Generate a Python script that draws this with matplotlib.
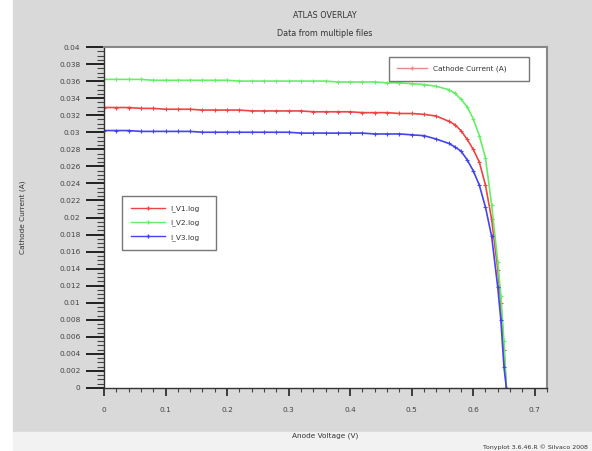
import matplotlib
matplotlib.use("Agg")
import matplotlib.pyplot as plt
from matplotlib.lines import Line2D
from matplotlib.patches import Rectangle
from matplotlib.ticker import MultipleLocator

# Anode voltage (V)
voltage = [0.00, 0.02, 0.04, 0.06, 0.08, 0.10, 0.12, 0.14, 0.16, 0.18,
           0.20, 0.22, 0.24, 0.26, 0.28, 0.30, 0.32, 0.34, 0.36, 0.38,
           0.40, 0.42, 0.44, 0.46, 0.48, 0.50, 0.52, 0.54, 0.56, 0.57,
           0.58, 0.59, 0.60, 0.61, 0.62, 0.63, 0.64, 0.645, 0.65, 0.654]

# Cathode current (A) for each log file
i_v1 = [0.0329, 0.0329, 0.0329, 0.0328, 0.0328, 0.0327, 0.0327, 0.0327, 0.0326, 0.0326,
        0.0326, 0.0326, 0.0325, 0.0325, 0.0325, 0.0325, 0.0325, 0.0324, 0.0324, 0.0324,
        0.0324, 0.0323, 0.0323, 0.0323, 0.0322, 0.0322, 0.0321, 0.0319, 0.0313, 0.0309,
        0.0302, 0.0292, 0.0280, 0.0265, 0.0238, 0.0198, 0.0139, 0.0100, 0.0045, 0.0000]
i_v2 = [0.0362, 0.0362, 0.0362, 0.0362, 0.0361, 0.0361, 0.0361, 0.0361, 0.0361, 0.0361,
        0.0361, 0.0360, 0.0360, 0.0360, 0.0360, 0.0360, 0.0360, 0.0360, 0.0360, 0.0359,
        0.0359, 0.0359, 0.0359, 0.0358, 0.0358, 0.0357, 0.0356, 0.0354, 0.0350, 0.0346,
        0.0339, 0.0330, 0.0316, 0.0296, 0.0270, 0.0215, 0.0148, 0.0108, 0.0055, 0.0000]
i_v3 = [0.0302, 0.0302, 0.0302, 0.0301, 0.0301, 0.0301, 0.0301, 0.0301, 0.0300, 0.0300,
        0.0300, 0.0300, 0.0300, 0.0300, 0.0300, 0.0300, 0.0299, 0.0299, 0.0299, 0.0299,
        0.0299, 0.0299, 0.0298, 0.0298, 0.0298, 0.0297, 0.0296, 0.0292, 0.0287, 0.0283,
        0.0278, 0.0268, 0.0255, 0.0238, 0.0212, 0.0178, 0.0118, 0.0080, 0.0025, 0.0000]

labels = ["I_V1.log", "I_V2.log", "I_V3.log"]
colors = ["#ee4444", "#66ee66", "#4444ee"]

fig = plt.figure(figsize=(5.92, 4.51), dpi=100)
fig.patch.set_facecolor("white")
# grey panel + light footer strip like tonyplot
fig.add_artist(Rectangle((13 / 592, 19 / 451), 1, 1, transform=fig.transFigure,
                         color="#d9d9d9", zorder=0))
fig.add_artist(Rectangle((13 / 592, 0), 1, 19 / 451, transform=fig.transFigure,
                         color="#f2f2f2", zorder=0))

ax = fig.add_axes([104 / 592, 1 - 388 / 451, 443 / 592, 341 / 451])
ax.set_facecolor("white")

for cur, lab, col in zip([i_v1, i_v2, i_v3], labels, colors):
    ax.plot(voltage, cur, color=col, lw=1.2, marker="+", markersize=3.5,
            markeredgewidth=0.8, label=lab)

ax.set_xlim(0, 0.72)
ax.set_ylim(0, 0.04)
ax.set_xticks([0, 0.1, 0.2, 0.3, 0.4, 0.5, 0.6, 0.7])
ax.set_xticklabels(["0", "0.1", "0.2", "0.3", "0.4", "0.5", "0.6", "0.7"])
yt = [i * 0.002 for i in range(21)]
ax.set_yticks(yt)
ax.set_yticklabels(["0"] + [f"{v:g}" for v in yt[1:]])
ax.xaxis.set_minor_locator(MultipleLocator(0.02))
ax.yaxis.set_minor_locator(MultipleLocator(0.0005))
ax.tick_params(axis="y", which="major", length=13, width=1.4, labelsize=5.3, colors="#222222",
               labelcolor="#444444", pad=4)
ax.tick_params(axis="y", which="minor", length=5, width=0.8, colors="#444444")
ax.tick_params(axis="x", which="major", length=6, width=1.2, labelsize=5.3, colors="#222222",
               labelcolor="#444444", pad=8)
ax.tick_params(axis="x", which="minor", length=3, width=0.8, colors="#444444")

for s in ["top", "right"]:
    ax.spines[s].set_color("#888888")
    ax.spines[s].set_linewidth(1.5)
for s in ["left", "bottom"]:
    ax.spines[s].set_color("#333333")
    ax.spines[s].set_linewidth(1.0)

ax.set_xlabel("Anode Voltage (V)", fontsize=5.3, color="#333333", labelpad=14)
ax.set_ylabel("Cathode Current (A)", fontsize=5.3, color="#333333", labelpad=24)

fig.text(325 / 592, 1 - 16 / 451, "ATLAS OVERLAY", ha="center", va="center",
         fontsize=5.8, color="#333333")
fig.text(325 / 592, 1 - 33 / 451, "Data from multiple files", ha="center", va="center",
         fontsize=5.8, color="#333333")
fig.text(588 / 592, 4 / 451, "Tonyplot 3.6.46.R \u00a9 Silvaco 2008", ha="right",
         va="center", fontsize=4.5, color="#333333")

# legends
h1 = [Line2D([], [], color="#ee8888", lw=1, marker="+", markersize=3.5, markevery=[1])]
leg1 = ax.legend(h1, ["Cathode Current (A)"], loc="upper left",
                 bbox_to_anchor=(0.634, 0.903, 0.334, 0.079), mode="expand",
                 fontsize=5.3, frameon=True, fancybox=False, handlelength=4,
                 borderpad=1.2, labelcolor="#333333")
leg1.get_frame().set_edgecolor("#555555")
leg1.get_frame().set_linewidth(1)
ax.add_artist(leg1)

h2 = [Line2D([], [], color=c, lw=1, marker="+", markersize=3.5, markevery=[0, 1])
      for c in colors]
leg2 = ax.legend(h2, labels, loc="upper left",
                 bbox_to_anchor=(0.032, 0.425, 0.23, 0.15), mode="expand",
                 fontsize=5.3, frameon=True, fancybox=False, handlelength=4.5,
                 labelspacing=1.0, borderpad=1.3, labelcolor="#333333")
leg2.get_frame().set_edgecolor("#555555")
leg2.get_frame().set_linewidth(1)

fig.savefig("out.png", dpi=100)
